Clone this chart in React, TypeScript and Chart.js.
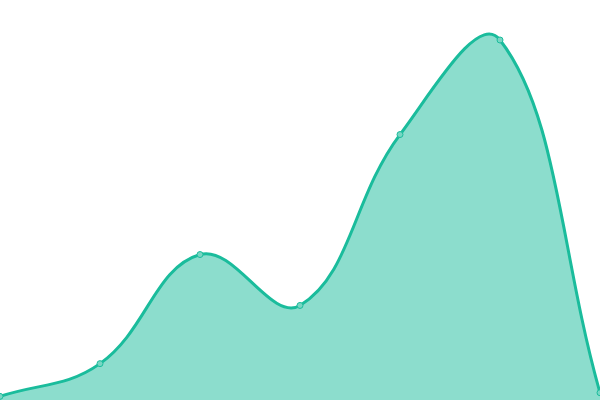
import { useEffect, useRef } from 'react'
import { Chart, registerables } from 'chart.js'

Chart.register(...registerables)

const labels = ['A', 'B', 'C', 'D', 'E', 'F', 'G']
const values = [1, 10, 40, 26, 73, 99, 2]

const LINE = 'rgb(26,188,156)'
const FILL = 'rgba(26,188,156,0.5)'
const POINT = 'rgb(120,214,195)'

export default function App() {
  const ref = useRef<HTMLCanvasElement>(null)

  useEffect(() => {
    document.body.style.margin = '0'
    if (!ref.current) return
    const chart = new Chart(ref.current, {
      type: 'line',
      data: {
        labels,
        datasets: [{
          data: values,
          fill: true,
          borderColor: LINE,
          backgroundColor: FILL,
          borderWidth: 3,
          tension: 0.4,
          pointRadius: 3,
          pointBorderWidth: 1,
          pointBackgroundColor: POINT,
          pointBorderColor: LINE,
        }],
      },
      options: {
        animation: false,
        responsive: false,
        layout: { padding: 0, autoPadding: false },
        plugins: { legend: { display: false }, tooltip: { enabled: false } },
        scales: {
          x: { display: false },
          y: { display: false, min: 0, max: 110 },
        },
      },
    })
    return () => chart.destroy()
  }, [])

  return <canvas ref={ref} width={600} height={400} style={{ display: 'block' }} />
}
